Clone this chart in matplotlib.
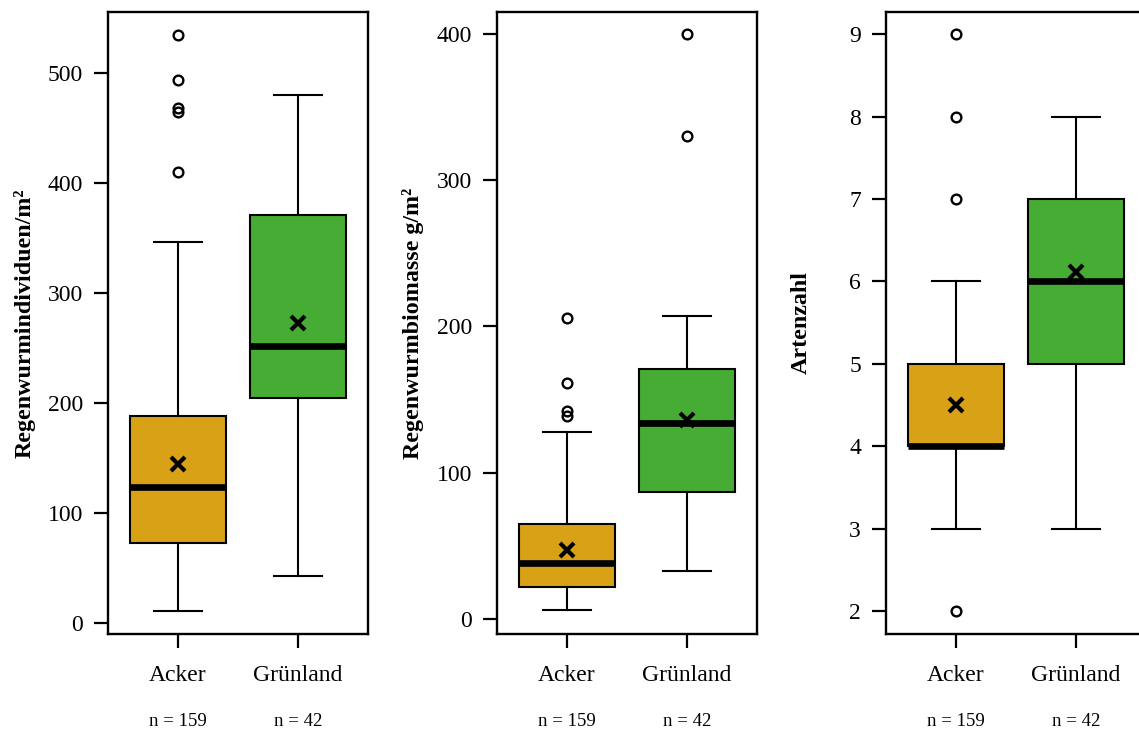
import matplotlib
matplotlib.use("Agg")
import matplotlib.pyplot as plt
from matplotlib.transforms import blended_transform_factory

plt.rcParams['font.family'] = ['Liberation Serif', 'DejaVu Serif']

categories = ["Acker", "Grünland"]
n_labels = ["n = 159", "n = 42"]
colors = ["#D9A116", "#47AC34"]

# Panel 1: Regenwurmindividuen/m²
ind_q1 = [73, 205]
ind_med = [124, 252]
ind_q3 = [188, 371]
ind_wlo = [11, 43]
ind_whi = [346, 480]
ind_mean = [145, 273]
ind_fliers = [[410, 465, 468, 494, 535], []]

# Panel 2: Regenwurmbiomasse g/m²
bio_q1 = [22, 87]
bio_med = [38, 134]
bio_q3 = [65, 171]
bio_wlo = [6, 33]
bio_whi = [128, 207]
bio_mean = [47, 136]
bio_fliers = [[139, 142, 161, 206], [330, 400]]

# Panel 3: Artenzahl
art_q1 = [4, 5]
art_med = [4, 6]
art_q3 = [5, 7]
art_wlo = [3, 3]
art_whi = [6, 8]
art_mean = [4.5, 6.12]
art_fliers = [[2, 7, 8, 9], []]

panels = [
    dict(q1=ind_q1, med=ind_med, q3=ind_q3, wlo=ind_wlo, whi=ind_whi, mean=ind_mean,
         fliers=ind_fliers, ylabel="Regenwurmindividuen/m²", yticks=[0, 100, 200, 300, 400, 500],
         ylim=(-10, 555.5), left=108, labx=-0.277),
    dict(q1=bio_q1, med=bio_med, q3=bio_q3, wlo=bio_wlo, whi=bio_whi, mean=bio_mean,
         fliers=bio_fliers, ylabel="Regenwurmbiomasse g/m²", yticks=[0, 100, 200, 300, 400],
         ylim=(-10.3, 415), left=497, labx=-0.281),
    dict(q1=art_q1, med=art_med, q3=art_q3, wlo=art_wlo, whi=art_whi, mean=art_mean,
         fliers=art_fliers, ylabel="Artenzahl", yticks=[2, 3, 4, 5, 6, 7, 8, 9],
         ylim=(1.72, 9.27), left=886, labx=-0.284),
]

W, H = 1139, 733
fig = plt.figure(figsize=(W / 100, H / 100), dpi=100)

positions = [1, 2]
for p in panels:
    ax = fig.add_axes([p['left'] / W, (H - 634) / H, 260 / W, 622 / H])
    stats = []
    for i in range(2):
        stats.append(dict(med=p['med'][i], q1=p['q1'][i], q3=p['q3'][i],
                          whislo=p['wlo'][i], whishi=p['whi'][i],
                          fliers=p['fliers'][i], mean=p['mean'][i], label=categories[i]))
    bp = ax.bxp(stats, positions=positions, widths=0.8, capwidths=0.4,
                patch_artist=True, showmeans=False, showfliers=True,
                boxprops=dict(linewidth=1.5, edgecolor='black'),
                whiskerprops=dict(linewidth=1.5, color='black'),
                capprops=dict(linewidth=1.5, color='black'),
                medianprops=dict(linewidth=4.8, color='black', solid_capstyle='butt'),
                flierprops=dict(marker='o', markersize=7, markerfacecolor='none',
                                markeredgecolor='black', markeredgewidth=1.7))
    for patch, c in zip(bp['boxes'], colors):
        patch.set_facecolor(c)
    ax.plot(positions, p['mean'], linestyle='none', marker='x', markersize=10,
            markeredgewidth=3, color='black', zorder=5)

    ax.set_xlim(0.4167, 2.5833)
    ax.set_ylim(*p['ylim'])
    ax.set_yticks(p['yticks'])
    ax.set_xticks(positions)
    ax.set_xticklabels(categories)
    ax.tick_params(axis='both', labelsize=17, length=10, width=1.6, direction='out')
    ax.tick_params(axis='y', pad=8)
    ax.tick_params(axis='x', pad=12)
    for s in ax.spines.values():
        s.set_linewidth(1.7)
    ax.set_ylabel(p['ylabel'], fontsize=17.3, fontweight='bold')
    ax.yaxis.set_label_coords(p['labx'], 0.5)

    tr = blended_transform_factory(ax.transData, fig.transFigure)
    for x, t in zip(positions, n_labels):
        ax.text(x, (H - 722) / H, t, transform=tr, ha='center', va='center', fontsize=13.5)

fig.savefig("out.png", dpi=100)
